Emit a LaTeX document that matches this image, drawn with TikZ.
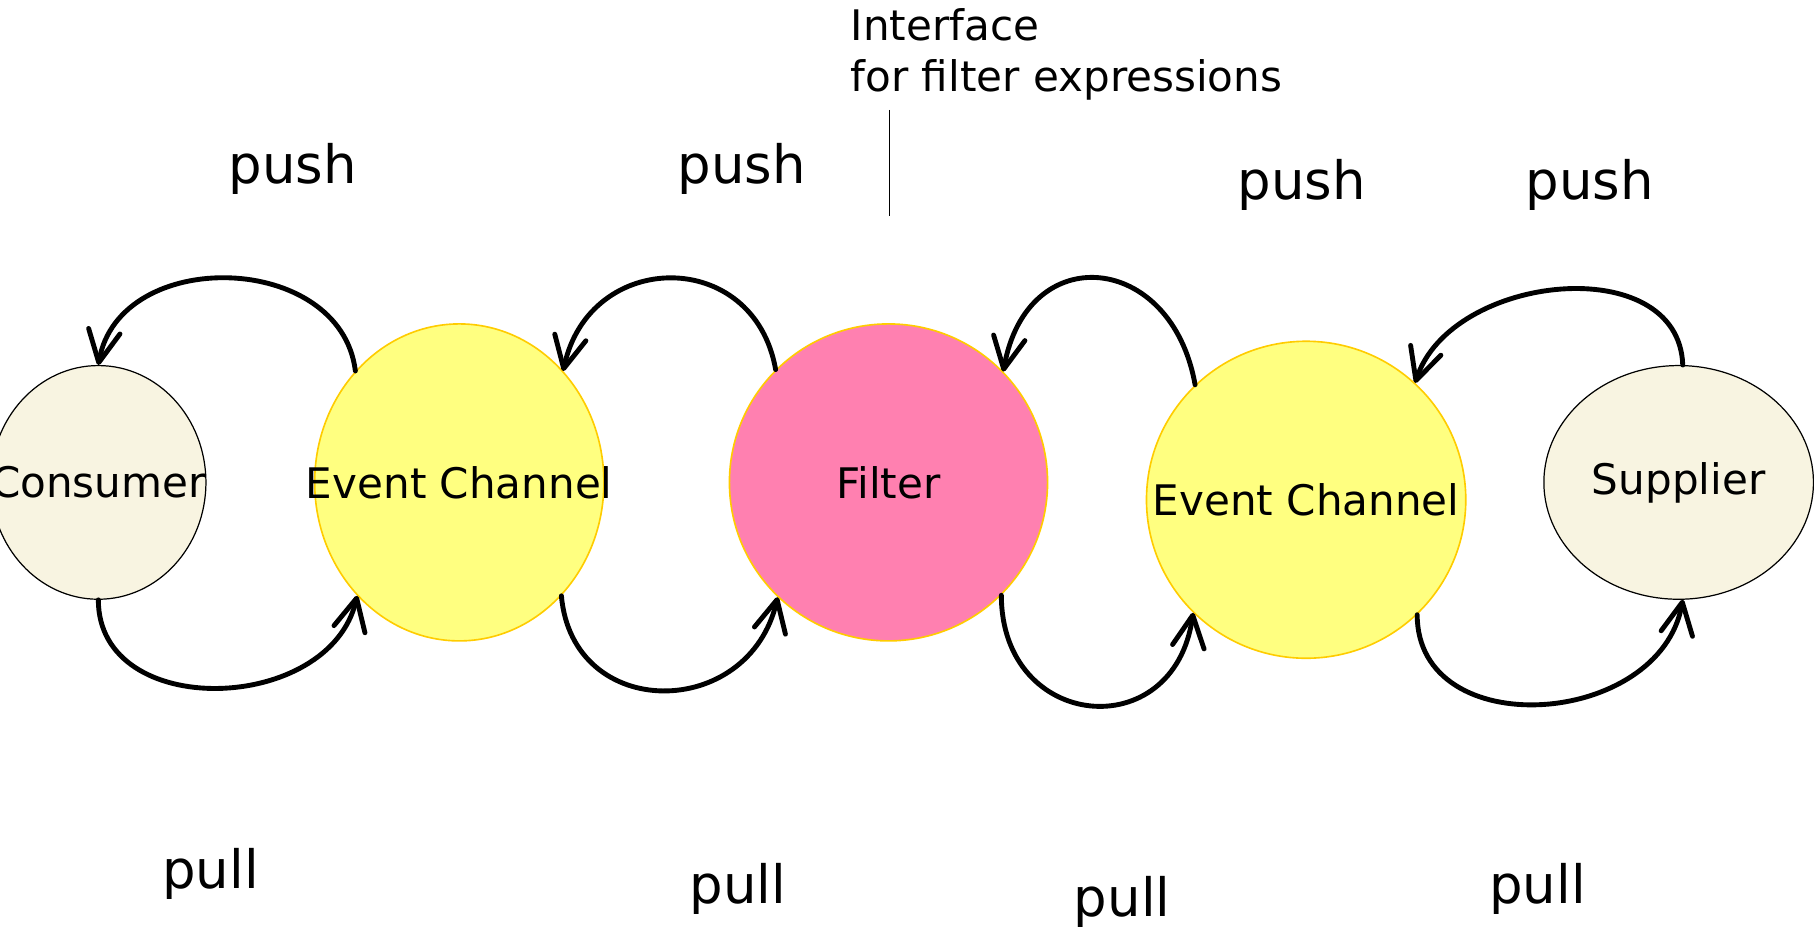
\documentclass[tikz,border=0pt]{standalone}
\usepackage{fontspec}
\setmainfont{DejaVu Sans}
\usetikzlibrary{arrows.meta,shapes.geometric}
\definecolor{cream}{RGB}{248,244,225}
\definecolor{chanyel}{RGB}{255,255,128}
\definecolor{chanrim}{RGB}{255,204,0}
\definecolor{filtpink}{RGB}{255,128,176}

\begin{document}
\begin{tikzpicture}[x=1cm, y=1cm, >={Straight Barb[length=5.5mm,width=5.5mm,round]},
  txt/.style={font=\fontsize{20.7}{25}\selectfont, inner sep=0pt},
  party/.style={ellipse, draw=black, line width=0.6pt, fill=cream, inner sep=0pt,
    label={[txt]center:#1}},
  chan/.style={ellipse, draw=chanrim, line width=0.8pt, fill=chanyel, inner sep=0pt,
    label={[txt]center:#1}},
  word/.style={font=\fontsize{26}{30}\selectfont},
  flow/.style={->, line width=2.4pt, line cap=round}]
\useasboundingbox (0,0) rectangle (31.36,16.12);
\node[party=Consumer, minimum width=3.72cm, minimum height=4.04cm] (cons) at (1.70,7.78) {};
\node[chan=Event Channel, minimum width=5.0cm, minimum height=5.48cm] (ec1) at (7.94,7.78) {};
\node[chan=Filter, fill=filtpink, minimum width=5.5cm, minimum height=5.48cm] (filt) at (15.36,7.78) {};
\node[chan=Event Channel, minimum width=5.52cm, minimum height=5.48cm] (ec2) at (22.58,7.48) {};
\node[party=Supplier, minimum width=4.66cm, minimum height=4.04cm] (supp) at (29.02,7.78) {};
\node[word] (push1) at (5.06,13.20) {push};
\node[word] (push2) at (12.82,13.20) {push};
\node[word] (push3) at (22.50,12.92) {push};
\node[word] (push4) at (27.48,12.92) {push};
\node[word] (pull1) at (3.64,1.02) {pull};
\node[word] (pull2) at (12.76,0.76) {pull};
\node[word] (pull3) at (19.40,0.52) {pull};
\node[word] (pull4) at (26.58,0.76) {pull};
\node[txt, align=left, anchor=north west] (ifc) at (14.70,15.98) {Interface\\for filter expressions};
\coordinate (tick-top) at (15.38,14.22);
\coordinate (tick-bot) at (15.38,12.38);
\draw[line width=0.6pt] (tick-top) -- (tick-bot);
\draw[flow] (ec1.133) to[out=97, in=80, looseness=1.2] (cons.north);
\draw[flow] (filt.135) to[out=100, in=78, looseness=1.5] (ec1.47);
\draw[flow] (ec2.134) to[out=100, in=80, looseness=1.8] (filt.44);
\draw[flow] (supp.88) to[out=92, in=72, looseness=1.1] (ec2.47);
\draw[flow] (cons.south) to[out=270, in=257, looseness=1.2] (ec1.228);
\draw[flow] (ec1.312) to[out=275, in=257, looseness=1.5] (filt.226);
\draw[flow] (filt.315) to[out=270, in=262, looseness=1.8] (ec2.225);
\draw[flow] (ec2.314) to[out=270, in=260, looseness=1.25] (supp.272);
\end{tikzpicture}
\end{document}
